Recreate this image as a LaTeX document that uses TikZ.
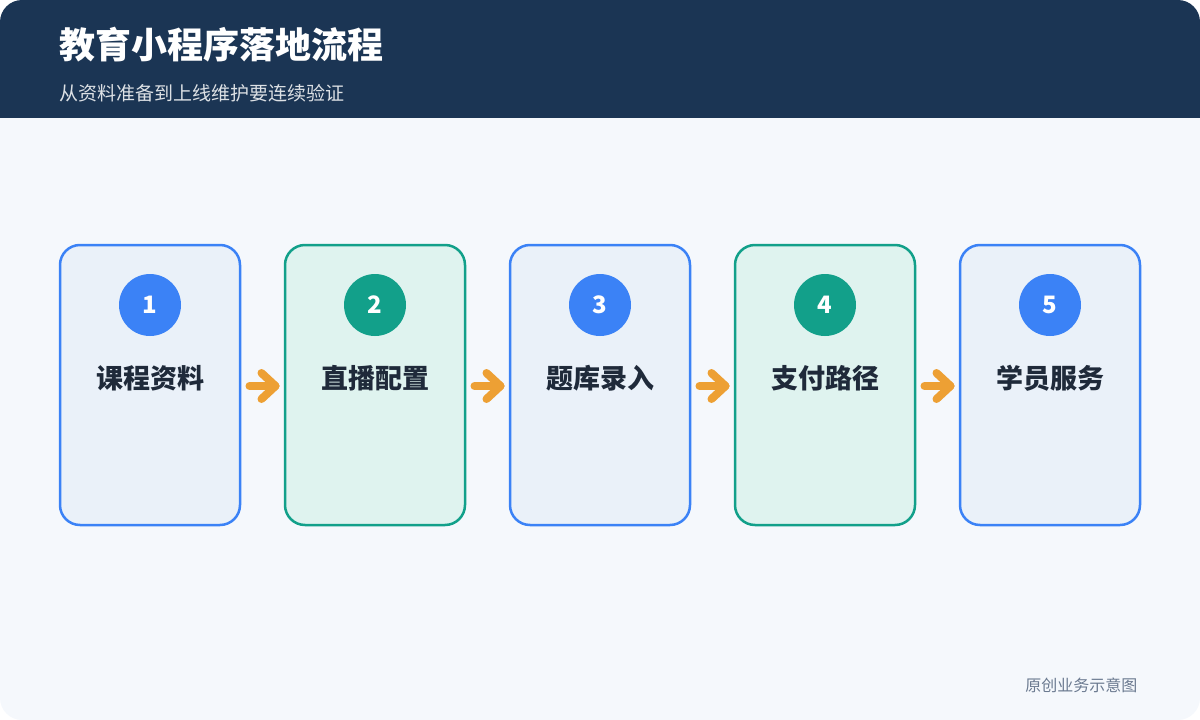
\documentclass[tikz,border=0pt]{standalone}
\usepackage{fontspec}
\setmainfont{Noto Sans CJK SC}
\usetikzlibrary{positioning,calc}
\definecolor{HeadBg}{HTML}{1B3554}
\definecolor{BodyBg}{HTML}{F5F8FC}
\definecolor{BlueLine}{HTML}{3B82F6}
\definecolor{BlueFill}{HTML}{EAF1F9}
\definecolor{GreenLine}{HTML}{12A08A}
\definecolor{GreenFill}{HTML}{DFF3EF}
\definecolor{ArrowOrange}{HTML}{EDA034}
\definecolor{LabelText}{HTML}{1F2A3A}
\definecolor{FootText}{HTML}{6B7A90}
\begin{document}
\begin{tikzpicture}[x=1pt,y=-1pt,
  step/.style n args={2}{draw=#1,fill=#2,line width=2.5pt,rounded corners=20pt,minimum width=180pt,minimum height=280pt},
  num/.style={circle,fill=#1,minimum size=62pt,inner sep=0pt,text=white,font=\fontsize{24pt}{24pt}\selectfont\bfseries},
  lbl/.style={text=LabelText,font=\fontsize{27pt}{27pt}\selectfont\bfseries},
  flow/.style={ArrowOrange,line width=8pt,line cap=round,line join=round}]
\useasboundingbox (0,0) rectangle (1200,720);
\fill[BodyBg,rounded corners=22pt] (0,0) rectangle (1200,720);
\fill[HeadBg,rounded corners=22pt] (0,0) rectangle (1200,60);
\fill[HeadBg] (0,40) rectangle (1200,118);
\node[anchor=west,text=white,font=\fontsize{36pt}{36pt}\selectfont\bfseries] (title) at (56,45) {教育小程序落地流程};
\node[anchor=west,text=white!85!HeadBg,font=\fontsize{19pt}{19pt}\selectfont] (subtitle) at (56,93) {从资料准备到上线维护要连续验证};
\foreach \i/\t/\c in {1/课程资料/Blue,2/直播配置/Green,3/题库录入/Blue,4/支付路径/Green,5/学员服务/Blue} {
  \node[step={\c Line}{\c Fill}] (box\i) at (150+225*\i-225,385) {};
  \node[num=\c Line] (num\i) at (150+225*\i-225,305) {\i};
  \node[lbl] (lbl\i) at (150+225*\i-225,378) {\t};
}
\foreach \i [evaluate=\i as \j using int(\i+1)] in {1,...,4} {
  \coordinate (a\i) at ($(box\i.east)!0.5!(box\j.west)+(0,1)$);
  \draw[flow] ([xshift=-13pt]a\i) -- ([xshift=13pt]a\i);
  \draw[flow] ([xshift=-1pt,yshift=-13pt]a\i) -- ([xshift=13pt]a\i) -- ([xshift=-1pt,yshift=13pt]a\i);
}
\node[anchor=east,text=FootText,font=\fontsize{16pt}{16pt}\selectfont] (foot) at (1141,685) {原创业务示意图};
\end{tikzpicture}
\end{document}
